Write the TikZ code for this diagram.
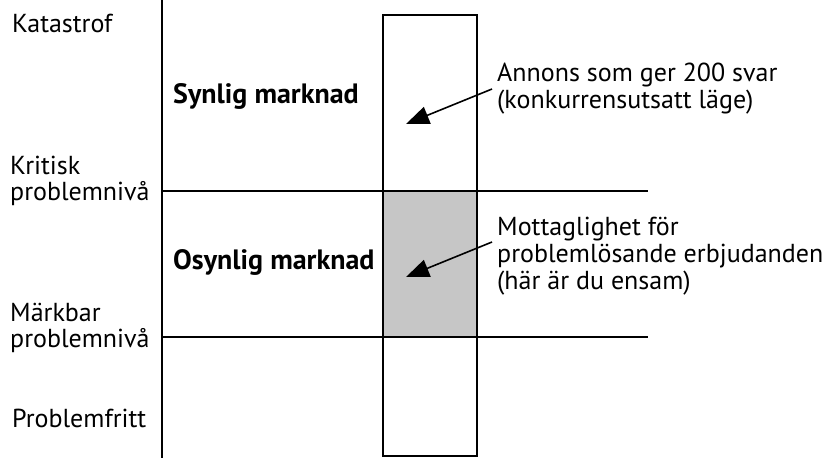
\documentclass[tikz,border=0pt]{standalone}
\usepackage{fontspec}
\setmainfont{PT Sans}
\usetikzlibrary{arrows.meta}
\begin{document}
\begin{tikzpicture}[x=1pt,y=-1pt,
  rule/.style={line width=1.8pt},
  label/.style={anchor=base west,inner sep=0pt,font=\fontsize{26}{26}\selectfont,align=left},
  note/.style={label,font=\fontsize{26}{27}\selectfont},
  region/.style={anchor=base west,inner sep=0pt,font=\fontsize{28}{30}\selectfont\bfseries},
  pointer/.style={line width=1.6pt,-{Triangle[length=23pt,width=18pt]}}]
\useasboundingbox (0,0) rectangle (832,459);
% shaded band of the column
\fill[gray!45] (383,191) rectangle (477,337);
% axis, level lines and column
\coordinate (axtop) at (162,0);
\coordinate (axbot) at (162,458);
\draw[rule] (axtop) -- (axbot);
\coordinate (critL) at (162,191);
\coordinate (critR) at (648,191);
\coordinate (noteL) at (162,337);
\coordinate (noteR) at (648,337);
\draw[rule] (critL) -- (critR);
\draw[rule] (noteL) -- (noteR);
\draw[rule] (383,15) rectangle (477,456);
% level labels (anchored on the baseline of the last line)
\node[label] (kat) at (12,32) {Katastrof};
\node[label] (krit) at (10,200) {Kritisk\\problemnivå};
\node[label] (mark) at (10,347) {Märkbar\\problemnivå};
\node[label] (fri) at (12,427) {Problemfritt};
% market labels
\node[region] (syn) at (173,103) {Synlig marknad};
\node[region] (osyn) at (173,269) {Osynlig marknad};
% notes on the right
\node[note] (ann) at (497,108) {Annons som ger 200 svar\\(konkurrensutsatt läge)};
\node[note] (mott) at (497,289) {Mottaglighet för\\problemlösande erbjudanden\\(här är du ensam)};
% pointers into the column
\coordinate (annTail) at (492,89);
\coordinate (annTip) at (406,124);
\coordinate (mottTail) at (492,242);
\coordinate (mottTip) at (406,277);
\draw[pointer] (annTail) -- (annTip);
\draw[pointer] (mottTail) -- (mottTip);
\end{tikzpicture}
\end{document}
